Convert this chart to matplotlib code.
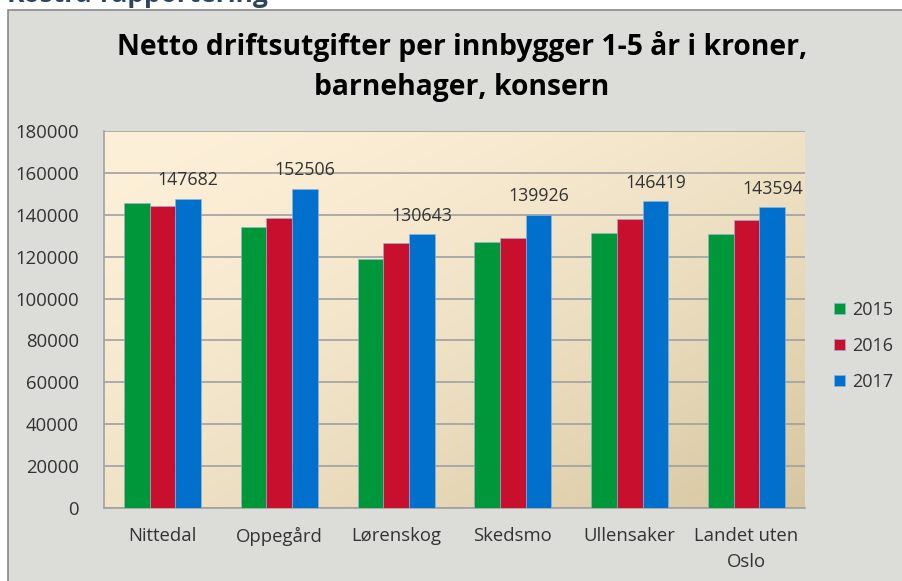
import numpy as np
import matplotlib.pyplot as plt
from matplotlib.patches import Rectangle

kommuner = ['Nittedal', 'Oppegård', 'Lørenskog', 'Skedsmo', 'Ullensaker',
            'Landet uten\nOslo']
years = ['2015', '2016', '2017']
v2015 = [145500, 134000, 119000, 126800, 131500, 130700]
v2016 = [144200, 138500, 126400, 129100, 138100, 137700]
v2017 = [147682, 152506, 130643, 139926, 146419, 143594]
colors = ['#00963a', '#c8102e', '#0070cc']
yticks = [0, 20000, 40000, 60000, 80000, 100000, 120000, 140000, 160000, 180000]

W, H = 903, 581
fig = plt.figure(figsize=(W / 100, H / 100), dpi=100)
fig.patch.set_facecolor('white')
plt.rcParams['font.family'] = ['Open Sans', 'DejaVu Sans']

# chart frame (grey box, partly cut off at right and bottom)
fig.patches.append(Rectangle((8 / W, -0.1), 1.2, 1 - 10 / H + 0.1,
                             transform=fig.transFigure, facecolor='#dcdcd8',
                             edgecolor='#8a8a8a', lw=1.2, zorder=-5))
fig.text(7 / W, 1 - 2 / H, 'Kostra-rapportering', fontsize=19,
         fontweight='bold', color='#2e4560', va='baseline', ha='left')

ax = fig.add_axes([104 / W, 1 - 508 / H, 701 / W, 377 / H])
ax.set_facecolor('none')

# diagonal gradient for plot area
gx, gy = np.meshgrid(np.linspace(0, 1, 200), np.linspace(0, 1, 200))
t = (gx + (1 - gy)) / 2
c0 = np.array([253, 240, 216]) / 255
c1 = np.array([214, 198, 160]) / 255
t = np.clip(t, 0, 1) ** 1.6
img = c0 + (c1 - c0) * t[..., None]
ax.imshow(img, extent=[0, 1, 0, 1], transform=ax.transAxes, aspect='auto',
          origin='lower', zorder=0)

x = np.arange(len(kommuner))
w = 0.22
for i, (vals, yr) in enumerate(zip([v2015, v2016, v2017], years)):
    ax.bar(x + (i - 1) * w, vals, w, color=colors[i], label=yr, zorder=3,
           edgecolor='#8fb8e0', linewidth=0.4)

for xi, v in zip(x, v2017):
    ax.annotate(str(v), (xi + w, v), xytext=(0, 7), textcoords='offset points',
                ha='center', va='bottom', fontsize=12.8, color='#333333')

ax.set_xlim(-0.5, len(kommuner) - 0.5)
ax.set_ylim(0, 180000)
ax.set_yticks(yticks)
ax.set_yticklabels([str(v) for v in yticks])
ax.set_xticks(x)
ax.set_xticklabels(kommuner, linespacing=1.55, va='top')
ax.tick_params(axis='both', length=0, labelsize=13.3, colors='#333333')
ax.tick_params(axis='x', pad=14)
ax.tick_params(axis='y', pad=18)
ax.grid(axis='y', color='#a0a0a0', lw=1.2, zorder=1)
for s in ['top', 'right']:
    ax.spines[s].set_visible(False)
for s in ['left', 'bottom']:
    ax.spines[s].set_color('#a0a0a0')
    ax.spines[s].set_linewidth(1.2)

fig.text(462 / W, 1 - 47 / H,
         'Netto driftsutgifter per innbygger 1-5 år i kroner,',
         ha='center', va='center', fontsize=20.3, fontweight='bold', color='black')
fig.text(462 / W, 1 - 88 / H, 'barnehager, konsern',
         ha='center', va='center', fontsize=20.3, fontweight='bold', color='black')

leg = ax.legend(loc='center left', bbox_to_anchor=(834 / W, 1 - 346 / H),
                bbox_transform=fig.transFigure, frameon=False, fontsize=13,
                borderpad=0, borderaxespad=0,
                handlelength=0.6, handleheight=0.6, handletextpad=0.4,
                labelspacing=1.0)
for txt in leg.get_texts():
    txt.set_color('#333333')

fig.savefig('out.png', dpi=100)
